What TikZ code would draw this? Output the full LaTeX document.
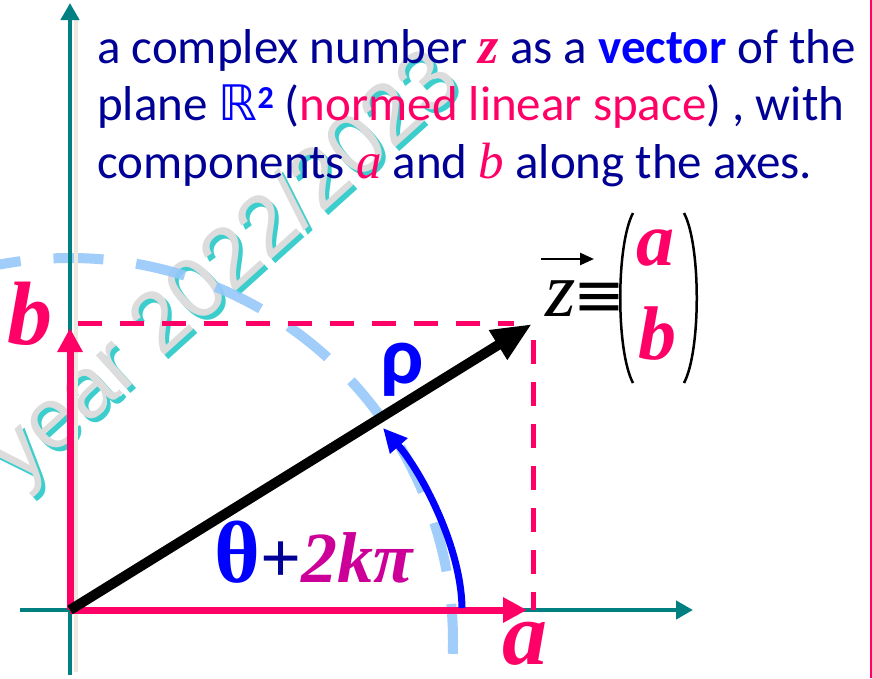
\documentclass[tikz,border=0pt]{standalone}
\usepackage{fontspec}
\setmainfont{Carlito}
\newfontfamily\tms{Liberation Serif}
\newfontfamily\dvs{DejaVu Sans}
\newfontfamily\arl{Liberation Sans}
\usetikzlibrary{arrows.meta}
\definecolor{navy}{RGB}{0,0,150}
\definecolor{hotpink}{RGB}{255,0,102}
\definecolor{tealax}{RGB}{0,128,128}
\definecolor{lblue}{RGB}{150,200,250}
\definecolor{magent}{RGB}{204,0,153}
\definecolor{wmgrey}{RGB}{220,220,220}
\definecolor{wmcyan}{RGB}{60,205,205}
\definecolor{beige}{RGB}{236,234,222}
\tikzset{
  txt/.style={anchor=base west, inner sep=0pt, text=navy, font=\fontsize{49}{56}\selectfont},
  wm/.style={rotate=42, inner sep=0pt, font=\arl\fontsize{86}{90}\selectfont},
  axisline/.style={draw=tealax, line width=4.5pt, -{Triangle[length=17pt,width=18pt]}},
  comp/.style={draw=hotpink, line width=7pt, -{Triangle[length=24pt,width=24pt]}},
  pinkdash/.style={draw=hotpink, line width=5pt, dash pattern=on 24pt off 18pt},
  vecline/.style={draw=black, line width=10pt, -{Triangle[length=40pt,width=32pt]}},
  anglearc/.style={draw=blue, line width=7pt, -{Triangle[length=24pt,width=22pt]}},
  circdash/.style={draw=lblue, line width=10pt, dash pattern=on 50pt off 33pt, dash phase=26pt, opacity=0.9},
  biglbl/.style={anchor=base, inner sep=0pt, text=hotpink, font=\tms\bfseries\itshape\fontsize{90}{90}\selectfont},
  collbl/.style={anchor=base, inner sep=0pt, text=hotpink, font=\tms\bfseries\itshape\fontsize{76}{76}\selectfont},
  paren/.style={draw=black, line width=2.5pt}
}
\begin{document}
\begin{tikzpicture}[x=1pt,y=-1pt]
\useasboundingbox[fill=white] (0,0) rectangle (872,678);
% watermark
\node[wm, text=wmcyan] (wmshadow) at (231,274) {year 2022/2023};
\node[wm, text=wmgrey] (wmtext) at (227,270) {year 2022/2023};
% dashed circle
\coordinate (C) at (70,641);
\draw[circdash] (C) ++(-101:383) arc[start angle=-101, end angle=6, radius=383];
% axes
\coordinate (O) at (70,610);
\coordinate (xstart) at (20,610);
\coordinate (xend) at (693,610);
\coordinate (ystart) at (70,675);
\coordinate (yend) at (70,3);
\coordinate (sh1) at (76,18);
\coordinate (sh2) at (76,672);
\draw[beige, line width=4pt] (sh1) -- (sh2);
\draw[axisline] (xstart) -- (xend);
\draw[axisline] (ystart) -- (yend);
% right edge line
\coordinate (re1) at (870.5,0);
\coordinate (re2) at (870.5,678);
\draw[hotpink, line width=2pt] (re1) -- (re2);
% dashed projections
\coordinate (hd1) at (78,323);
\coordinate (hd2) at (514,323);
\coordinate (vd1) at (533,340);
\coordinate (vd2) at (533,610);
\draw[pinkdash] (hd1) -- (hd2);
\draw[pinkdash] (vd1) -- (vd2);
% components
\coordinate (A) at (527,610);
\coordinate (B) at (70,328);
\draw[comp] (O) -- (A);
\draw[comp] (O) -- (B);
% angle arc
\coordinate (ts) at (462,608);
\coordinate (te) at (383,428);
\draw[anglearc] (ts) .. controls (461,545) and (420,470) .. (te);
% vector
\coordinate (Z) at (532,324);
\draw[vecline] (O) -- (Z);
% text
\node[txt] (l1) at (97,63) {a complex number {\tms\bfseries\itshape\fontsize{52}{56}\selectfont\color{hotpink}z} as a {\bfseries\color{blue}vector} of the};
\node[txt] (l2) at (97,120) {plane {\dvs\color{blue}ℝ}\raisebox{12pt}{\bfseries\fontsize{32}{32}\selectfont\color{blue}2} ({\color{hotpink}normed linear space}) , with};
\node[txt] (l3) at (97,178) {components {\tms\itshape\fontsize{51}{56}\selectfont\color{hotpink}a} and {\tms\itshape\fontsize{51}{56}\selectfont\color{hotpink}b} along the axes.};
% labels
\node[biglbl] (lb) at (30,344) {b};
\node[biglbl] (la) at (525,664) {a};
\node[anchor=base, inner sep=0pt, text=blue, font=\bfseries\fontsize{82}{82}\selectfont] (rho) at (402,383) {ρ};
\node[anchor=base west, inner sep=0pt] (theta) at (214,582) {{\tms\bfseries\fontsize{88}{88}\selectfont\color{blue}θ}{\tms\bfseries\fontsize{72}{72}\selectfont\color{navy}+}{\tms\bfseries\itshape\fontsize{72}{72}\selectfont\color{magent}2kπ}};
% column vector
\node[anchor=base, inner sep=0pt, font=\tms\itshape\fontsize{78}{78}\selectfont] (zz) at (561,316) {z};
\coordinate (za1) at (541,259);
\coordinate (za2) at (594,259);
\draw[line width=2.5pt, -{Triangle[length=14pt,width=12pt]}] (za1) -- (za2);
\node[anchor=center, inner sep=0pt, font=\dvs\fontsize{62}{62}\selectfont] (eq) at (599,300) {≡};
\coordinate (lp1) at (633,213);
\coordinate (lp2) at (633,383);
\coordinate (rp1) at (684,213);
\coordinate (rp2) at (684,383);
\draw[paren] (lp1) .. controls (616,245) and (616,351) .. (lp2);
\draw[paren] (rp1) .. controls (701,245) and (701,351) .. (rp2);
\node[collbl] (ca) at (655,265) {a};
\node[collbl] (cb) at (657,359) {b};
\end{tikzpicture}
\end{document}
